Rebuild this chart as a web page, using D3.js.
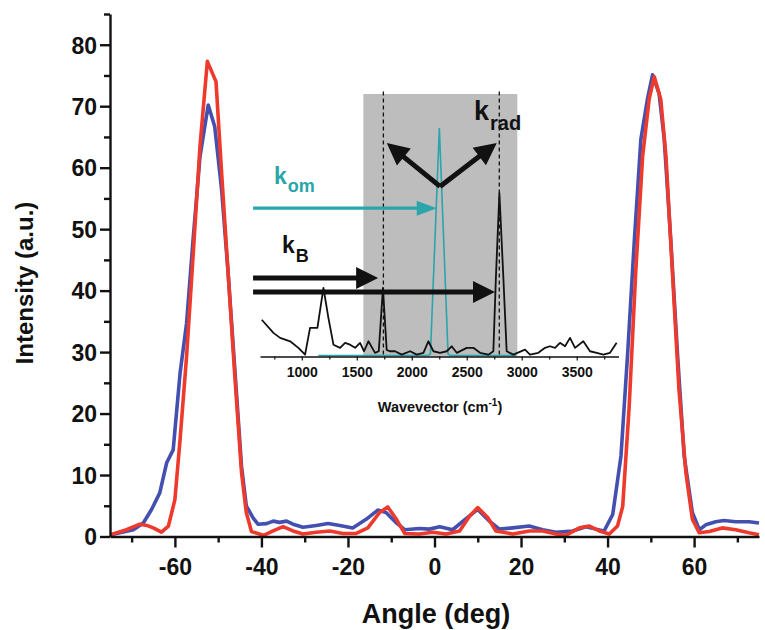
<!DOCTYPE html>
<html>
<head>
<meta charset="utf-8">
<script src="https://cdn.jsdelivr.net/npm/d3@7"></script>
<style>
  html, body { margin: 0; padding: 0; background: #ffffff; }
  svg { display: block; font-family: "Liberation Sans", Arial, Helvetica, sans-serif; }
</style>
</head>
<body>
<svg id="chart" width="765" height="630"></svg>
<script>
// ---------------- data (main chart) ----------------
const blueAngle = [-74.8,-69.6,-67.3,-65.4,-63.5,-61.9,-60.4,-58.8,-57.3,-55.8,-54.2,-52.3,-50.8,-49.2,-47.7,-46.2,-44.6,-43.5,-41.9,-40.8,-38.8,-37.3,-35.8,-34.2,-32.7,-30.4,-27.3,-24.6,-21.9,-18.9,-15.8,-13.1,-11.2,-8.8,-6.9,-3.5,-1.2,1.2,4.2,7.3,10.0,12.7,15.0,18.1,21.9,25.0,28.1,31.9,35.0,37.3,39.2,41.2,43.1,44.6,46.2,47.7,49.2,50.4,51.9,53.1,54.6,56.2,57.7,59.6,61.2,62.7,65.0,66.9,69.6,72.7,75.0];
const blueIntensity = [0.3,1.1,2.2,4.4,7.1,12.0,14.1,26.6,34.7,48.3,61.8,70.2,66.7,56.4,42.9,27.7,11.4,5.0,3.0,2.0,2.1,2.5,2.3,2.5,2.0,1.5,1.8,2.1,1.8,1.4,2.8,4.3,3.9,2.2,1.1,1.3,1.2,1.6,1.1,2.9,4.4,2.5,1.2,1.4,1.7,1.1,0.7,0.9,1.6,1.2,0.9,3.6,13.1,29.3,48.3,64.6,71.1,75.1,72.1,64.6,48.3,29.3,13.1,3.9,1.1,1.9,2.4,2.6,2.4,2.4,2.2];
const redAngle = [-74.8,-71.2,-68.1,-66.5,-65.0,-63.1,-61.5,-60.0,-58.8,-57.3,-55.8,-54.2,-52.5,-50.5,-49.2,-47.7,-46.2,-44.6,-43.5,-42.3,-39.5,-37.3,-35.0,-32.7,-30.4,-27.3,-24.2,-21.2,-18.1,-15.4,-12.7,-10.8,-8.8,-6.9,-3.5,-0.4,2.7,5.8,8.1,10.0,12.3,14.2,18.1,21.9,25.0,28.1,30.4,33.5,35.8,38.1,40.4,42.3,43.5,45.0,46.5,48.1,49.6,50.8,52.3,53.5,55.0,56.5,58.1,59.6,61.2,63.5,66.5,69.6,72.7,75.0];
const redIntensity = [0.3,1.1,2.0,1.8,1.4,0.7,1.7,6.0,15.8,29.3,45.6,63.5,77.3,74.0,59.1,42.9,26.6,10.4,3.9,0.8,0.2,0.9,1.6,0.9,0.4,0.7,0.9,0.5,0.5,1.4,3.9,4.8,2.8,0.5,0.4,0.7,0.4,0.9,3.3,4.7,3.1,0.9,0.4,0.9,0.9,0.4,0.2,1.4,1.7,0.9,0.4,1.7,4.9,21.2,42.9,61.8,71.1,74.8,71.1,61.8,42.9,23.9,10.4,2.8,0.6,0.8,1.4,1.1,0.6,0.3];
const xMajorTicks = [-60,-40,-20,0,20,40,60];
const xMinorTicks = [-70,-50,-30,-10,10,30,50,70];
const yMajorTicks = [0,10,20,30,40,50,60,70,80];
const yMinorTicks = [5,15,25,35,45,55,65,75,85];

// ---------------- data (inset) ----------------
const specWave = [636,742,803,894,969,1030,1075,1142,1197,1242,1288,1348,1394,1439,1485,1530,1566,1606,1666,1700,1738,1772,1800,1848,1909,1985,2045,2106,2151,2197,2257,2318,2363,2409,2500,2560,2621,2697,2742,2765,2797,2833,2863,2924,3030,3075,3151,3212,3257,3303,3348,3394,3439,3485,3560,3621,3682,3742,3803,3863];
const specVal  = [14.0,9.0,7.1,5.8,3.3,0.7,10.9,10.9,26.1,14.7,4.5,3.3,5.2,4.5,3.3,5.2,2.0,5.8,1.4,2.0,26.1,2.5,2.0,2.0,0.7,2.0,0.7,1.4,5.8,2.0,1.4,2.0,3.9,1.4,3.3,3.3,1.4,0.7,2.0,30,62.2,30,2.0,0.7,2.6,0.7,1.4,3.3,3.9,3.3,5.2,3.9,7.1,3.3,5.8,2.0,1.4,0.7,1.4,5.2];
const cyanWave = [1150,2150,2170,2251,2330,2350,2950];
const cyanVal  = [0.4,0.4,1.0,87.0,1.0,0.4,0.4];
const insetTicks = [1000,1500,2000,2500,3000,3500];
const insetMinorTicks = [750,1250,1750,2250,2750,3250,3750];
const bandWave = [1560, 2960];
const dashedWave = [1742, 2796];

// ---------------- layout ----------------
const svg = d3.select("#chart");
const x = d3.scaleLinear().domain([-75, 75]).range([110, 759]);
const y = d3.scaleLinear().domain([0, 85]).range([536.5, 14]);

const blueColor = "#4350b0";
const redColor = "#ee3a2c";
const cyanColor = "#2aa5aa";

// inset scales
const xi = d3.scaleLinear().domain([620, 3880]).range([260, 618.5]);
const yi = d3.scaleLinear().domain([0, 100]).range([356.5, 94]);

// ---- inset (drawn behind main curves) ----
const inset = svg.append("g");
inset.append("rect")
  .attr("x", xi(bandWave[0])).attr("y", yi(100))
  .attr("width", xi(bandWave[1]) - xi(bandWave[0]))
  .attr("height", yi(0) - yi(100))
  .attr("fill", "#bdbdbd");

dashedWave.forEach(w => {
  inset.append("line")
    .attr("x1", xi(w)).attr("x2", xi(w))
    .attr("y1", yi(101)).attr("y2", yi(0))
    .attr("stroke", "#111").attr("stroke-width", 1.3)
    .attr("stroke-dasharray", "4,3");
});

const iline = d3.line().x(d => xi(d[0])).y(d => yi(d[1]));
inset.append("path")
  .datum(cyanWave.map((w, i) => [w, cyanVal[i]]))
  .attr("d", iline).attr("fill", "none")
  .attr("stroke", cyanColor).attr("stroke-width", 1.6);
inset.append("path")
  .datum(specWave.map((w, i) => [w, specVal[i]]))
  .attr("d", iline).attr("fill", "none")
  .attr("stroke", "#111").attr("stroke-width", 1.8).attr("stroke-linejoin", "round");

const iax = inset.append("g").attr("transform", `translate(0,${yi(0)})`);
iax.call(d3.axisBottom(xi).tickValues(insetTicks).tickFormat(d => String(d))
  .tickSize(4).tickSizeOuter(0).tickPadding(4));
iax.append("g").call(d3.axisBottom(xi).tickValues(insetMinorTicks).tickSize(3).tickFormat(""))
  .select(".domain").remove();
iax.selectAll(".domain").attr("stroke", "#111").attr("stroke-width", 1.3);
iax.selectAll(".tick line").attr("stroke", "#111").attr("stroke-width", 1.2);
iax.selectAll(".tick text")
  .attr("font-family", "Liberation Sans, Arial, sans-serif")
  .attr("font-size", 14).attr("font-weight", "bold").attr("fill", "#111")
  .attr("dy", 0).attr("y", 20);

const wl = inset.append("text")
  .attr("x", 440).attr("y", 411.5).attr("text-anchor", "middle")
  .attr("font-size", 14.5).attr("font-weight", "bold").attr("fill", "#111");
wl.append("tspan").text("Wavevector (cm");
wl.append("tspan").text("-1").attr("font-size", 10).attr("dy", -6);
wl.append("tspan").text(")").attr("dy", 6);

// arrows
function arrow(g, x1, y1, x2, y2, color, w, hl, hw) {
  const ang = Math.atan2(y2 - y1, x2 - x1);
  const bx = x2 - hl * Math.cos(ang), by = y2 - hl * Math.sin(ang);
  g.append("line").attr("x1", x1).attr("y1", y1).attr("x2", bx + 1 * Math.cos(ang)).attr("y2", by + 1 * Math.sin(ang))
    .attr("stroke", color).attr("stroke-width", w);
  const px = -Math.sin(ang), py = Math.cos(ang);
  g.append("path")
    .attr("d", `M${x2},${y2}L${bx + px * hw},${by + py * hw}L${bx - px * hw},${by - py * hw}Z`)
    .attr("fill", color);
}
const ann = svg.append("g");
arrow(ann, xi(557), yi(56.5), xi(2227), yi(56.5), cyanColor, 3.2, 20, 7.5);
arrow(ann, xi(557), yi(29.9), xi(1694), yi(29.9), "#111", 5, 22, 11);
arrow(ann, xi(557), yi(24.6), xi(2757), yi(24.6), "#111", 5, 22, 11);
arrow(ann, xi(2257), yi(64.8), xi(1773), yi(81.3), "#111", 5, 22, 11);
arrow(ann, xi(2257), yi(64.8), xi(2773), yi(81.3), "#111", 5, 22, 11);

function kLabel(g, px, py, sub, color, kSize, subSize, subDy) {
  const t = g.append("text").attr("x", px).attr("y", py)
    .attr("font-weight", "bold").attr("fill", color);
  t.append("tspan").text("k").attr("font-size", kSize);
  t.append("tspan").text(sub).attr("font-size", subSize).attr("dy", subDy).attr("dx", 1);
}
kLabel(ann, 274, 184, "om", cyanColor, 23, 18, 8);
kLabel(ann, 282, 253, "B", "#111", 23, 18, 9);
kLabel(ann, 474, 120, "rad", "#111", 27, 20, 10);

// ---- main curves ----
const line = d3.line().x(d => x(d[0])).y(d => y(d[1]));
svg.append("path")
  .datum(blueAngle.map((a, i) => [a, blueIntensity[i]]))
  .attr("d", line).attr("fill", "none")
  .attr("stroke", blueColor).attr("stroke-width", 3.6).attr("stroke-linejoin", "round");
svg.append("path")
  .datum(redAngle.map((a, i) => [a, redIntensity[i]]))
  .attr("d", line).attr("fill", "none")
  .attr("stroke", redColor).attr("stroke-width", 3.6).attr("stroke-linejoin", "round");

// ---- main axes ----
const xAxisG = svg.append("g").attr("transform", `translate(0,${y(0)})`);
xAxisG.call(d3.axisBottom(x).tickValues(xMajorTicks).tickFormat(d => String(d))
  .tickSize(11).tickSizeOuter(0));
xAxisG.append("g").call(d3.axisBottom(x).tickValues(xMinorTicks).tickSize(6).tickFormat(""))
  .select(".domain").remove();
xAxisG.selectAll(".tick text")
  .attr("font-family", "Liberation Sans, Arial, sans-serif")
  .attr("font-size", 23).attr("font-weight", "bold").attr("fill", "#111")
  .attr("dy", 0).attr("y", 38.5);

const yAxisG = svg.append("g").attr("transform", `translate(${x(-75)},0)`);
yAxisG.call(d3.axisLeft(y).tickValues(yMajorTicks).tickFormat(d => String(d))
  .tickSize(10).tickSizeOuter(0));
yAxisG.append("g").call(d3.axisLeft(y).tickValues(yMinorTicks).tickSize(6).tickFormat(""))
  .select(".domain").remove();
yAxisG.selectAll(".tick text")
  .attr("font-family", "Liberation Sans, Arial, sans-serif")
  .attr("font-size", 23).attr("font-weight", "bold").attr("fill", "#111")
  .attr("x", -13).attr("dy", "0.36em");

[xAxisG, yAxisG].forEach(g => {
  g.selectAll(".domain").attr("stroke", "#111").attr("stroke-width", 2.4);
  g.selectAll(".tick line").attr("stroke", "#111").attr("stroke-width", 2.4);
});

svg.append("text")
  .attr("x", 436).attr("y", 623).attr("text-anchor", "middle")
  .attr("font-size", 27).attr("font-weight", "bold").attr("fill", "#111")
  .text("Angle (deg)");
svg.append("text")
  .attr("transform", "translate(33,283) rotate(-90)").attr("text-anchor", "middle")
  .attr("font-size", 24).attr("font-weight", "bold").attr("fill", "#111")
  .text("Intensity (a.u.)");
</script>
</body>
</html>
